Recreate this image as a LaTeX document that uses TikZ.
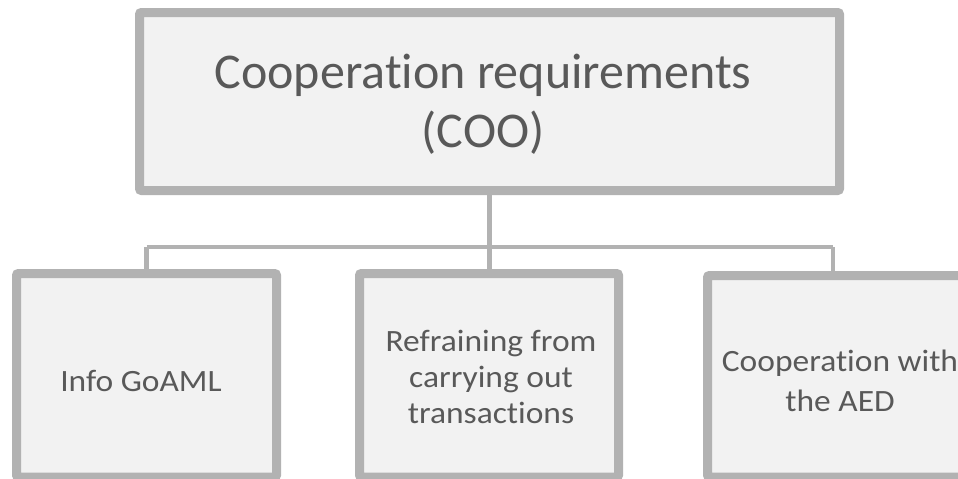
\documentclass[tikz,border=0pt]{standalone}
\usepackage{fontspec}
\setmainfont{Carlito}[Ligatures=NoCommon]
\newfontfamily\widefont{Carlito}[Ligatures=NoCommon, FakeStretch=1.08]
\definecolor{bordergray}{HTML}{B2B2B2}
\definecolor{boxfill}{HTML}{F2F2F2}
\definecolor{textgray}{HTML}{595959}
\tikzset{
  orgbox/.style={draw=bordergray, fill=boxfill, line width=9pt, rounded corners=2pt},
  link/.style={draw=bordergray, line width=4.5pt},
  bigtext/.style={text=textgray, align=center, font=\fontsize{50}{59}\selectfont},
  smalltext/.style={text=textgray, align=center, font=\widefont\fontsize{31}{36}\selectfont}
}
\begin{document}
\begin{tikzpicture}[x=1pt,y=-1pt]
\useasboundingbox (0,0) rectangle (958,479);
\clip (0,0) rectangle (958,479);
% connectors
\coordinate (topb) at (489.5,190);
\coordinate (jc) at (489.5,247);
\coordinate (jl) at (146.5,247);
\coordinate (jr) at (833,247);
\coordinate (lb) at (146.5,273);
\coordinate (mb) at (489.5,273);
\coordinate (rb) at (833,275);
\draw[link] (topb) -- (jc);
\draw[link] (jl) -- (jr);
\draw[link] (jl) -- (lb);
\draw[link] (jc) -- (mb);
\draw[link] (jr) -- (rb);
% boxes
\path[orgbox] (139.5,12.5) rectangle (839.5,190.5);
\path[orgbox] (16.5,273.5) rectangle (276.5,477);
\path[orgbox] (359.5,273.5) rectangle (618.5,477);
\path[orgbox] (707.5,275.5) rectangle (966.5,477);
% texts
\node[bigtext] (top) at (483,104) {Cooperation requirements\\(COO)};
\node[smalltext] (left) at (141,381) {Info GoAML};
\node[smalltext] (mid) at (491,377) {Refraining from\\carrying out\\transactions};
\node[smalltext, font=\widefont\fontsize{31}{40}\selectfont] (right) at (840,381) {Cooperation with\\the AED};
\end{tikzpicture}
\end{document}
